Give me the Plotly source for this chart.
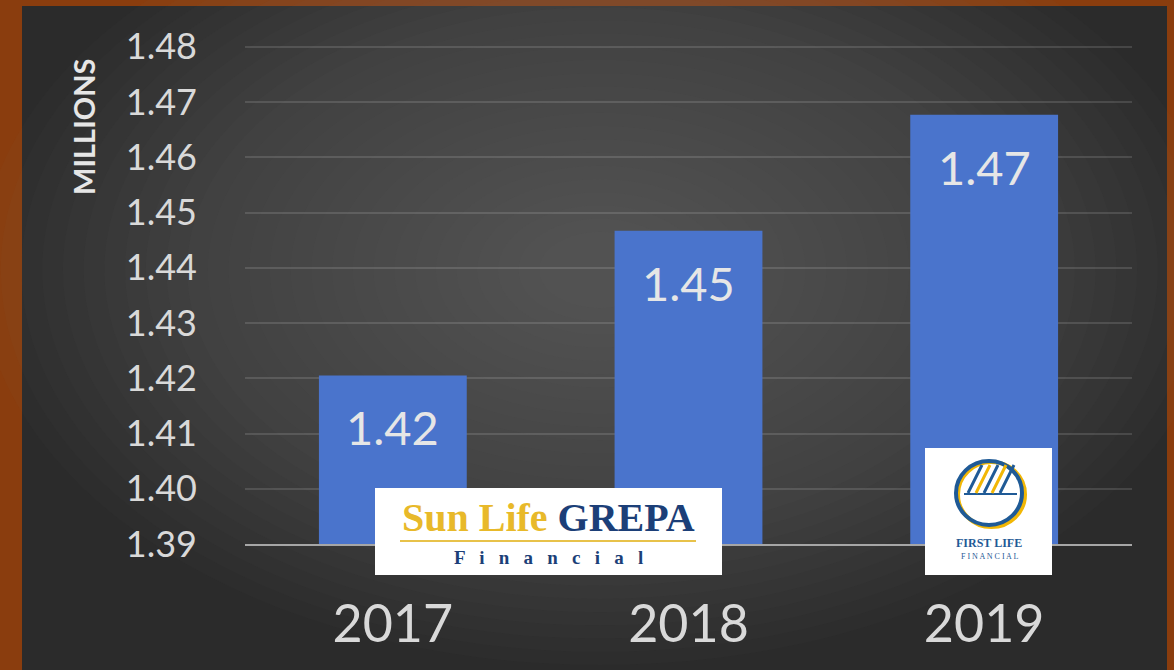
import plotly.graph_objects as go

# ---- data ----
years = ["2017", "2018", "2019"]
values = [1.4205, 1.4467, 1.4677]
value_labels = ["1.42", "1.45", "1.47"]
y_ticks = [1.39, 1.40, 1.41, 1.42, 1.43, 1.44, 1.45, 1.46, 1.47, 1.48]
y_tick_labels = [f"{v:.2f}" for v in y_ticks]
axis_title = "MILLIONS"

W, H = 1174, 670
L, R, T, B = 245, 1132, 44, 544  # plot area in pixels
Y0, Y1 = 1.39, 1.4805


def px(x):
    return (x - L) / (R - L)


def py(y):
    return (B - y) / (B - T)


FONT = "Lato"
fig = go.Figure()
fig.add_trace(go.Bar(
    x=years, y=values, width=0.5,
    marker=dict(color="#4a74cc", line=dict(width=0)),
    hoverinfo="skip",
))

shapes = []
# dark panel over the brown frame
shapes.append(dict(type="rect", xref="paper", yref="paper", x0=px(22), x1=px(1167), y0=py(680), y1=py(6),
                   fillcolor="#2b2b2b", line=dict(width=0), layer="below"))
# soft radial glow
cx, cy = 600, 270
n = 28
for i in range(n):
    f = 1 - i / n
    rx = 40 + 580 * f
    ry = 25 + 370 * f
    shapes.append(dict(type="circle", xref="paper", yref="paper",
                       x0=px(cx - rx), x1=px(cx + rx), y0=py(cy + ry), y1=py(cy - ry),
                       fillcolor="#707070", opacity=0.03, line=dict(width=0), layer="below"))

# Sun Life GREPA logo box
shapes.append(dict(type="rect", xref="paper", yref="paper", x0=px(375), x1=px(722), y0=py(575), y1=py(488),
                   fillcolor="white", line=dict(width=0), layer="above"))
shapes.append(dict(type="line", xref="paper", yref="paper", x0=px(400), x1=px(696), y0=py(541), y1=py(541),
                   line=dict(color="#e8c24a", width=2), layer="above"))
# First Life logo box
shapes.append(dict(type="rect", xref="paper", yref="paper", x0=px(925), x1=px(1052), y0=py(575), y1=py(448),
                   fillcolor="white", line=dict(width=0), layer="above"))
shapes.append(dict(type="circle", xref="paper", yref="paper", x0=px(958), x1=px(1025), y0=py(527), y1=py(462),
                   fillcolor="rgba(0,0,0,0)", line=dict(color="#f2b705", width=4), layer="above"))
shapes.append(dict(type="circle", xref="paper", yref="paper", x0=px(956), x1=px(1022), y0=py(525), y1=py(461),
                   fillcolor="rgba(0,0,0,0)", line=dict(color="#1f5a96", width=4), layer="above"))
shapes.append(dict(type="line", xref="paper", yref="paper", x0=px(964), x1=px(1017), y0=py(494), y1=py(494),
                   line=dict(color="#1f5a96", width=2), layer="above"))
for k in range(5):
    x0 = 968 + k * 8
    shapes.append(dict(type="line", xref="paper", yref="paper", x0=px(x0), x1=px(x0 + 14),
                       y0=py(493), y1=py(465),
                       line=dict(color="#1f5a96" if k % 2 == 0 else "#f2b705", width=3), layer="above"))

annotations = []
# value labels inside bars
for i, (v, lab) in enumerate(zip(values, value_labels)):
    annotations.append(dict(x=i, y=v, xref="x", yref="y", text=lab, showarrow=False,
                            xanchor="center", yanchor="top", yshift=-22,
                            font=dict(family=FONT, size=47, color="#e6e6e6")))
# axis title
annotations.append(dict(x=px(83), y=py(127), xref="paper", yref="paper", text=f"<b>{axis_title}</b>",
                        showarrow=False, textangle=-90, xanchor="center", yanchor="middle",
                        font=dict(family=FONT, size=29, color="#e6e6e6")))
# Sun Life text
annotations.append(dict(x=px(548), y=py(517), xref="paper", yref="paper", xanchor="center", yanchor="middle",
                        text="<b><span style='color:#e8b92a'>Sun Life</span> <span style='color:#1c3f78'>GREPA</span></b>",
                        showarrow=False, font=dict(family="Liberation Serif", size=40)))
annotations.append(dict(x=px(548), y=py(557), xref="paper", yref="paper", xanchor="center", yanchor="middle",
                        text="<b>F   i   n   a   n   c   i   a   l</b>", showarrow=False,
                        font=dict(family="Liberation Serif", size=19, color="#1c3f78")))
annotations.append(dict(x=px(989), y=py(543), xref="paper", yref="paper", xanchor="center", yanchor="middle",
                        text="<b>FIRST LIFE</b>", showarrow=False,
                        font=dict(family="Liberation Serif", size=12, color="#1f5a96")))
annotations.append(dict(x=px(989), y=py(556), xref="paper", yref="paper", xanchor="center", yanchor="middle",
                        text="F I N A N C I A L", showarrow=False,
                        font=dict(family="Liberation Serif", size=8, color="#1f5a96")))

fig.update_layout(
    width=W, height=H,
    margin=dict(l=L, r=W - R, t=T, b=H - B),
    paper_bgcolor="#8a3d0e",
    plot_bgcolor="rgba(0,0,0,0)",
    showlegend=False,
    shapes=shapes,
    annotations=annotations,
    xaxis=dict(
        type="category", range=[-0.5, 2.5], autorange=False,
        showgrid=False, showline=True, linecolor="#a6a6a6", linewidth=2,
        tickfont=dict(family=FONT, size=52, color="#d9d9d9"),
        ticks="", ticklabelstandoff=34,
    ),
    yaxis=dict(
        range=[Y0, Y1], autorange=False, tickvals=y_ticks, ticktext=y_tick_labels,
        showgrid=True, gridcolor="rgba(255,255,255,0.13)", gridwidth=1.5,
        zeroline=False, showline=False,
        tickfont=dict(family=FONT, size=36, color="#d9d9d9"),
        ticks="", ticklabelstandoff=47,
    ),
)

fig.write_html("out.html", config={"displayModeBar": False},
               post_script="document.body.style.margin='0';document.body.style.overflow='hidden';")
